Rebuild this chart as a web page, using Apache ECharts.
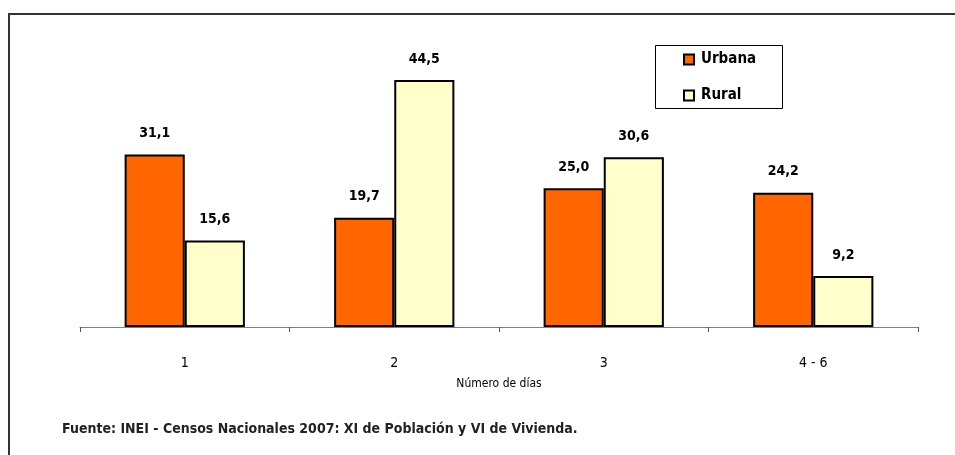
<!DOCTYPE html>
<html><head><meta charset="utf-8">
<script src="https://cdn.jsdelivr.net/npm/echarts@6/dist/echarts.min.js"></script>
<style>html,body{margin:0;padding:0;background:#fff}#c{width:955px;height:455px}</style>
</head><body><div id="c"></div>
<script>
const categories = ['1', '2', '3', '4 - 6'];
const urbana = [31.1, 19.7, 25.0, 24.2];
const rural = [15.6, 44.5, 30.6, 9.2];
const seriesNames = ['Urbana', 'Rural'];
const xAxisName = 'Número de días';
const sourceText = 'Fuente: INEI - Censos Nacionales 2007: XI de Población y VI de Vivienda.';

const FONT = '"DejaVu Sans Condensed", "Liberation Sans Narrow", "Arial Narrow", sans-serif';
const chart = echarts.init(document.getElementById('c'), null, {renderer: 'canvas'});
const fmt = p => p.value.toFixed(1).replace('.', ',');
const lbl = {show: true, position: 'top', distance: 14, formatter: fmt, color: '#000', fontFamily: FONT, fontWeight: 'bold', fontSize: 14};
chart.setOption({
  animation: false,
  backgroundColor: '#fff',
  grid: {left: 80, right: 37, top: 49.5, bottom: 128, containLabel: false},
  legend: {
    data: seriesNames, orient: 'vertical', left: 678, top: 47, itemWidth: 10, itemHeight: 10, itemGap: 21,
    icon: 'rect',
    textStyle: {fontFamily: FONT, fontWeight: 'bold', fontSize: 15, color: '#000', padding: [0, 0, 0, 2]}
  },
  xAxis: {
    type: 'category', data: categories,
    axisLine: {lineStyle: {color: '#808080', width: 1}},
    axisTick: {show: true, length: 5, lineStyle: {color: '#555'}},
    axisLabel: {margin: 29, color: '#000', fontFamily: FONT, fontSize: 14},
    name: xAxisName, nameLocation: 'middle', nameGap: 51,
    nameTextStyle: {fontFamily: FONT, fontSize: 12, color: '#000'}
  },
  yAxis: {type: 'value', min: 0, max: 50, show: false, splitLine: {show: false}},
  series: [
    {name: seriesNames[0], type: 'bar', data: urbana, barGap: '0%', barCategoryGap: '42.6%',
     itemStyle: {color: '#FF6600', borderColor: '#000', borderWidth: 2}, label: lbl},
    {name: seriesNames[1], type: 'bar', data: rural,
     itemStyle: {color: '#FFFFCC', borderColor: '#000', borderWidth: 2}, label: lbl}
  ],
  graphic: [
    {type: 'rect', shape: {x: 9, y: 14, width: 960, height: 460}, style: {fill: 'none', stroke: '#333', lineWidth: 2}, silent: true},
    {type: 'rect', shape: {x: 655.5, y: 45.5, width: 127, height: 63}, style: {fill: 'none', stroke: '#000', lineWidth: 1}, silent: true, z: 0},
    {type: 'text', left: 62, top: 422, style: {text: sourceText, fontFamily: FONT, fontWeight: 'bold', fontSize: 14, fill: '#222'}}
  ]
});
</script></body></html>
